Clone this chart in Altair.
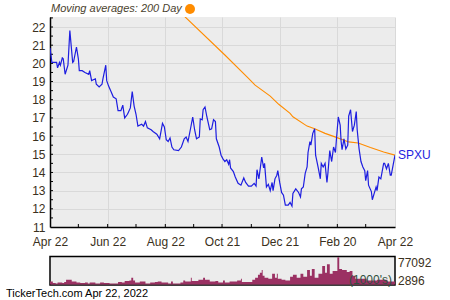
import altair as alt
import pandas as pd

START = "2021-04-22"

# closing prices: day offset from START, value
price_day = [0, 2, 5, 7, 8, 10, 11, 13, 14, 16, 19, 21, 24, 25, 28, 30, 31, 34, 37, 41, 42, 44, 48, 49, 52,
             55, 56, 59, 60, 62, 65, 67, 70, 72, 75, 77, 79, 82, 85, 87, 89, 91, 93, 97, 99, 101, 103, 107,
             109, 113, 116, 119, 121, 123, 125, 127, 129, 131, 136, 139, 142, 144, 146, 149, 151, 153, 155,
             158, 159, 161, 162, 164, 166, 169, 171, 173, 175, 176, 179, 181, 183, 185, 187, 189, 190, 191,
             194, 196, 199, 202, 205, 207, 210, 213, 216, 218, 219, 221, 224, 226, 227, 229, 231, 233, 235,
             236, 238, 240, 241, 243, 245, 247, 249, 252, 254, 256, 257, 260, 263, 265, 266, 268, 270, 272,
             273, 275, 276, 278, 280, 281, 282, 284, 286, 287, 289, 291, 293, 294, 296, 298, 300, 302, 303,
             305, 307, 308, 309, 311, 313, 315, 316, 318, 320, 322, 324, 325, 327, 329, 331, 333, 334, 336,
             337, 340, 341, 343, 345, 346, 348, 350, 353, 354, 356, 358, 360, 361, 363, 365]
price_close = [20.85, 20.05, 20.05, 20.05, 19.75, 20.05, 19.9, 20.3, 20.25, 19.4, 19.9, 21.8, 20.05, 20.1,
               20.9, 20.25, 19.6, 19.6, 19.5, 19.4, 19.6, 19.05, 19.15, 18.85, 18.7, 18.85, 19.15, 19.9,
               19.05, 18.75, 18.4, 18.15, 18.05, 17.4, 17.4, 17.7, 17.0, 17.2, 17.55, 18.45, 17.65, 17.2,
               16.55, 16.65, 16.55, 16.8, 16.45, 16.35, 16.25, 16.1, 15.85, 16.7, 16.5, 15.8, 15.7, 15.9,
               15.4, 15.25, 15.2, 15.4, 15.85, 15.95, 15.7, 16.5, 17.05, 16.35, 15.85, 15.95, 16.95, 16.9,
               17.45, 17.6, 17.05, 16.35, 16.4, 16.9, 16.8, 15.85, 15.4, 14.95, 14.75, 14.6, 14.7, 14.45,
               14.7, 14.25, 14.05, 13.75, 13.4, 13.3, 13.7, 13.45, 13.25, 13.25, 13.4, 13.25, 14.15, 13.65,
               14.85, 14.25, 14.5, 13.2, 13.35, 13.0, 13.45, 13.0, 13.65, 13.85, 14.1, 13.45, 12.9, 12.75,
               12.2, 12.2, 12.35, 12.15, 12.85, 13.1, 12.9, 12.65, 13.1, 13.2, 13.95, 14.3, 15.1, 15.7, 15.5,
               16.15, 16.4, 14.95, 14.7, 14.2, 13.65, 14.5, 14.3, 14.5, 13.45, 13.95, 15.2, 14.6, 15.4, 15.1,
               15.8, 17.05, 16.6, 15.7, 15.25, 15.85, 15.3, 15.5, 17.1, 17.45, 16.25, 16.6, 17.35, 16.35,
               15.3, 14.6, 14.3, 14.1, 13.55, 14.1, 13.3, 12.95, 12.5, 12.85, 13.2, 13.0, 13.75, 13.65, 14.5,
               14.5, 14.2, 14.5, 13.85, 13.85, 14.4, 14.95]

# 200-day moving average
ma_day = [140, 185, 210, 217, 233, 242, 254, 257, 272, 280, 291, 303, 316, 326, 339, 353, 365]
ma_value = [22.7, 20.46, 19.18, 18.8, 18.2, 17.75, 17.25, 17.06, 16.55, 16.4, 16.15, 15.93, 15.68,
            15.62, 15.37, 15.13, 14.95]

# volume (thousands)
vol_day = [0, 3, 6, 8, 13, 15, 17, 21, 23, 28, 32, 37, 40, 42, 48, 53, 57, 63, 72, 76, 79, 84, 86, 88, 90,
           95, 101, 106, 111, 114, 118, 122, 125, 128, 130, 138, 141, 143, 149, 150, 157, 162, 164, 169,
           175, 178, 183, 185, 190, 198, 202, 203, 214, 217, 220, 222, 224, 225, 227, 231, 235, 238, 240,
           241, 245, 249, 254, 257, 261, 265, 268, 272, 275, 277, 280, 284, 288, 291, 293, 296, 299, 304,
           306, 309, 314, 317, 320, 323, 335, 346, 357, 365]
vol_k = [8250, 4125, 2896, 5500, 4125, 6875, 13750, 13750, 8250, 5500, 4125, 5500, 2896, 5500, 2896, 5500,
         4125, 2896, 6875, 5500, 9625, 11000, 19250, 11000, 5500, 8250, 2896, 5500, 6875, 8250, 5500, 5500,
         2896, 8250, 2896, 5500, 11000, 8250, 19250, 9625, 13750, 19250, 13750, 8250, 9625, 5500, 11000,
         5500, 8250, 11000, 16500, 6875, 13750, 19250, 27500, 33000, 41250, 24750, 19250, 16500, 30250,
         19250, 30250, 16500, 13750, 11000, 22000, 27500, 19250, 30250, 22000, 41250, 24750, 44000, 19250,
         30250, 52250, 33000, 57750, 30250, 38500, 77092, 44000, 41250, 35750, 38500, 24750, 16500, 11000,
         13750, 8250, 8250]

x_label_dates = ["2021-04-22", "2021-06-22", "2021-08-22", "2021-10-21", "2021-12-21", "2022-02-20",
                 "2022-04-22"]
x_minor_dates = ["2021-05-22", "2021-06-22", "2021-07-22", "2021-08-22", "2021-09-21", "2021-10-21",
                 "2021-11-21", "2021-12-21", "2022-01-20", "2022-02-20", "2022-03-22"]
y_labels = [11, 12, 13, 14, 15, 16, 17, 18, 19, 20, 21, 22]
y_minor = [11.5, 12, 12.5, 13, 13.5, 14, 14.5, 15, 15.5, 16, 16.5, 17, 17.5, 18, 18.5, 19, 19.5, 20,
           20.5, 21, 21.5, 22, 22.5]
vol_labels = [77092, 2896]

assert len(price_day) == len(price_close)
assert len(ma_day) == len(ma_value)
assert len(vol_day) == len(vol_k)

start = pd.Timestamp(START)
price_df = pd.DataFrame({"date": start + pd.to_timedelta(price_day, unit="D"), "close": price_close})
ma_df = pd.DataFrame({"date": start + pd.to_timedelta(ma_day, unit="D"), "ma": ma_value})
vol_df = pd.DataFrame({"date": start + pd.to_timedelta(vol_day, unit="D"), "vol": vol_k})
last_df = price_df.tail(1).assign(label="SPXU")
xmin_df = pd.DataFrame({"date": pd.to_datetime(x_minor_dates)})
ymin_df = pd.DataFrame({"v": y_minor})
one = pd.DataFrame({"k": [0]})

FONT = "Liberation Sans"
TXT = "#3a3020"
W, H = 345, 210


def dt(s):
    t = pd.Timestamp(s)
    return alt.DateTime(year=t.year, month=t.month, date=t.day)


x_scale = alt.Scale(domain=[dt("2021-04-22"), dt("2022-04-22")])
x_axis = alt.Axis(values=[dt(s) for s in x_label_dates], format="%b %d", grid=True, gridColor="#d9d9d9",
                  ticks=False, labelPadding=9, labelFlush=False, labelOverlap=False, labelBound=False,
                  domainColor="black", domainWidth=1.5, title=None, labelFont=FONT, labelFontSize=12,
                  labelColor=TXT)
y_scale = alt.Scale(domain=[11, 22.55], nice=False, zero=False)
y_axis = alt.Axis(values=y_labels, grid=True, gridColor="#d9d9d9", ticks=False, labelPadding=5,
                  labelOverlap=False, labelFlush=False, labelBound=False,
                  domainColor="black", domainWidth=1.5, title=None, labelFont=FONT, labelFontSize=12,
                  labelColor=TXT)

price_line = alt.Chart(price_df).mark_line(color="#1e1ee0", strokeWidth=1.2, clip=True).encode(
    x=alt.X("date:T", scale=x_scale, axis=x_axis),
    y=alt.Y("close:Q", scale=y_scale, axis=y_axis),
)
ma_line = alt.Chart(ma_df).mark_line(color="#ff8c00", strokeWidth=1.1, clip=True).encode(
    x=alt.X("date:T", scale=x_scale, axis=x_axis),
    y=alt.Y("ma:Q", scale=y_scale, axis=y_axis),
)
spxu = alt.Chart(last_df).mark_text(align="left", baseline="middle", dx=3, fontSize=12, font=FONT,
                                    color="#1e1ee0").encode(
    x=alt.X("date:T", scale=x_scale, axis=x_axis),
    y=alt.Y("close:Q", scale=y_scale, axis=y_axis),
    text="label:N",
)
y_ticks = alt.Chart(ymin_df).mark_rule(color="black", strokeWidth=1).encode(
    y=alt.Y("v:Q", scale=y_scale, axis=y_axis),
    x=alt.value(0), x2=alt.value(3),
)
x_ticks = alt.Chart(xmin_df).mark_rule(color="black", strokeWidth=1).encode(
    x=alt.X("date:T", scale=x_scale, axis=x_axis),
    y=alt.value(H), y2=alt.value(H - 3),
)
price_layer = alt.layer(y_ticks, x_ticks, ma_line, price_line, spxu)

VT, VB = 240, 267.5
v_scale = alt.Scale(domain=[0, 78000], range=[VB, VT], zero=True, nice=False)
vol_bg = alt.Chart(one).mark_rect(fill="#ececec", stroke="black", strokeWidth=1.5).encode(
    x=alt.value(0), x2=alt.value(W), y=alt.value(VT - 0.5), y2=alt.value(VB + 0.5),
)
vol_area = alt.Chart(vol_df).mark_area(color="#9b3163", interpolate="step-after").encode(
    x=alt.X("date:T", scale=x_scale, axis=x_axis),
    y=alt.Y("vol:Q", scale=v_scale, axis=None),
)
vol_top = alt.Chart(pd.DataFrame({"v": [vol_labels[0]]})).mark_text(
    align="left", baseline="middle", dx=3, dy=6, fontSize=12, font=FONT, color=TXT).encode(
    x=alt.value(W), y=alt.Y("v:Q", scale=v_scale, axis=None), text="v:Q")
vol_bot = alt.Chart(pd.DataFrame({"v": [vol_labels[1]]})).mark_text(
    align="left", baseline="middle", dx=3, dy=-2, fontSize=12, font=FONT, color=TXT).encode(
    x=alt.value(W), y=alt.Y("v:Q", scale=v_scale, axis=None), text="v:Q")
units = alt.Chart(one).mark_text(align="right", baseline="middle", fontSize=12, font=FONT,
                                 color="#2f5040", text="(1000's)").encode(
    x=alt.value(W - 3), y=alt.value(262.5))
vol_layer = alt.layer(vol_bg, vol_area, units, vol_top, vol_bot)

title = alt.Chart(one).mark_text(align="left", baseline="middle", fontSize=11, font=FONT,
                                 fontStyle="italic", color="#4a3f2e",
                                 text="Moving averages: 200 Day").encode(x=alt.value(1), y=alt.value(-8))
dot = alt.Chart(one).mark_point(filled=True, color="#ff8c00", size=100, opacity=1).encode(
    x=alt.value(140), y=alt.value(-8))
footer = alt.Chart(one).mark_text(align="left", baseline="middle", fontSize=11, font=FONT, color="black",
                                  text="TickerTech.com  Apr 22, 2022").encode(x=alt.value(-44), y=alt.value(277))

chart = alt.layer(price_layer, vol_layer, title, dot, footer).resolve_scale(y="independent").properties(
    width=W, height=H,
    autosize=alt.AutoSizeParams(type="none"),
    padding={"left": 50, "top": 17, "right": 55, "bottom": 73},
    background="white",
).configure_view(fill="#ececec", stroke=None)

chart.save("out.html", embed_options={"renderer": "svg", "actions": False})
